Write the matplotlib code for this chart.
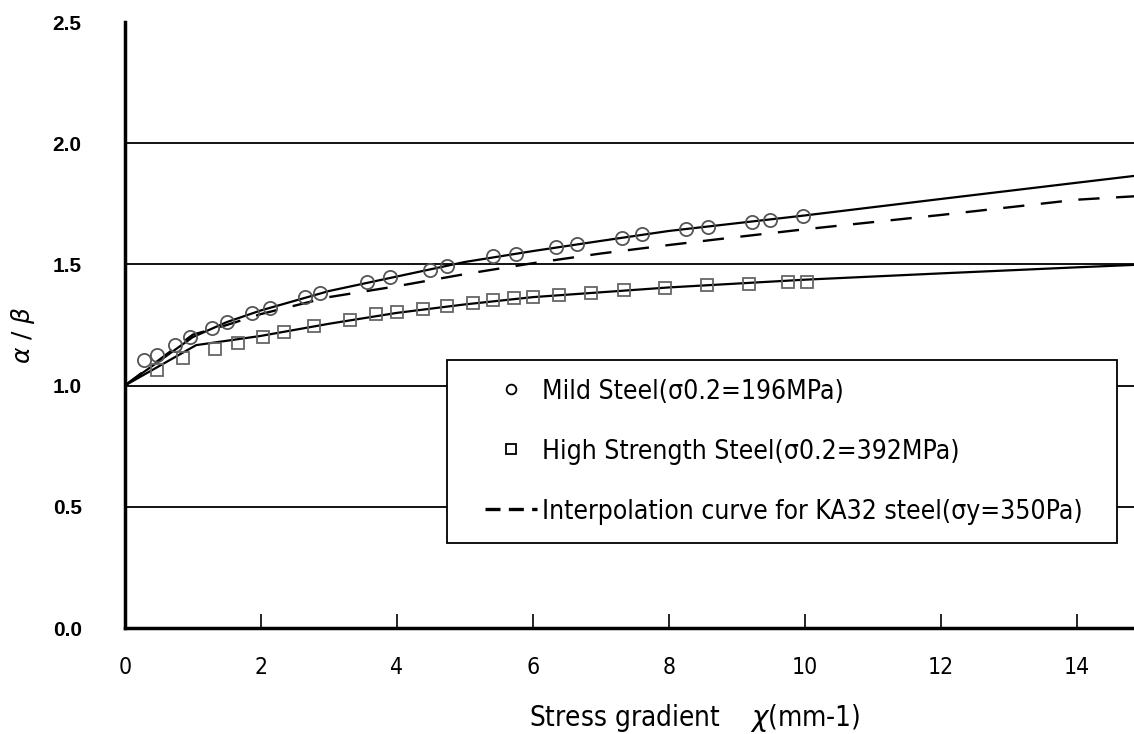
import matplotlib
matplotlib.use("Agg")
import matplotlib.pyplot as plt
from matplotlib.lines import Line2D
from matplotlib.legend_handler import HandlerLine2D
from matplotlib.font_manager import FontProperties

mild_x = [0.29, 0.47, 0.74, 0.96, 1.28, 1.51, 1.87, 2.13, 2.65, 2.87, 3.56, 3.90, 4.49, 4.74,
          5.41, 5.76, 6.34, 6.65, 7.31, 7.60, 8.26, 8.57, 9.22, 9.49, 9.97]
mild_y = [1.106, 1.126, 1.167, 1.200, 1.238, 1.262, 1.300, 1.320, 1.366, 1.382, 1.427, 1.448,
          1.477, 1.493, 1.535, 1.543, 1.572, 1.584, 1.609, 1.625, 1.646, 1.654, 1.675, 1.683, 1.700]

high_x = [0.47, 0.85, 1.32, 1.66, 2.04, 2.34, 2.79, 3.31, 3.69, 4.00, 4.38, 4.74, 5.12, 5.41,
          5.72, 6.00, 6.38, 6.85, 7.34, 7.94, 8.56, 9.18, 9.75, 10.03]
high_y = [1.064, 1.114, 1.151, 1.176, 1.200, 1.221, 1.246, 1.271, 1.295, 1.304, 1.316, 1.328,
          1.341, 1.353, 1.361, 1.365, 1.374, 1.382, 1.394, 1.403, 1.415, 1.419, 1.427, 1.427]

mild_fit_x = [0, 1.0, 1.5, 2, 3, 4, 5, 6, 7, 8, 9, 10, 12, 14, 14.84]
mild_fit_y = [1.0, 1.20, 1.262, 1.31, 1.39, 1.45, 1.51, 1.555, 1.597, 1.638, 1.670, 1.702, 1.770, 1.837, 1.865]

high_fit_x = [0, 1.05, 1.5, 2, 3, 4, 5, 6, 7, 8, 10, 12, 14, 14.84]
high_fit_y = [1.0, 1.167, 1.185, 1.205, 1.255, 1.30, 1.335, 1.365, 1.385, 1.405, 1.437, 1.463, 1.488, 1.498]

ka32_x = [0, 1.0, 1.5, 2, 3, 4, 5, 6, 7, 8, 9, 10, 12, 14, 14.84]
ka32_y = [1.0, 1.21, 1.25, 1.295, 1.365, 1.41, 1.46, 1.505, 1.545, 1.58, 1.613, 1.645, 1.704, 1.767, 1.781]

x_ticks = [0, 2, 4, 6, 8, 10, 12, 14]
y_ticks = [0.0, 0.5, 1.0, 1.5, 2.0, 2.5]

legend_labels = [
    "Mild Steel(σ0.2=196MPa)",
    "High Strength Steel(σ0.2=392MPa)",
    "Interpolation curve for KA32 steel(σy=350Pa)",
]


def narrow_font(size):
    return FontProperties(family="DejaVu Sans", stretch="condensed", size=size)


def main() -> None:
    fig = plt.figure(figsize=(11.34, 7.34), dpi=100)
    ax = fig.add_axes([0.110, 0.1444, 0.890, 0.8256])

    for g in [0.5, 1.0, 1.5, 2.0]:
        ax.axhline(g, color="black", lw=1.3, zorder=1)

    ax.plot(mild_fit_x, mild_fit_y, color="black", lw=1.6, zorder=3)
    ax.plot(high_fit_x, high_fit_y, color="black", lw=1.6, zorder=3)
    ax.plot(ka32_x, ka32_y, color="black", lw=1.7, dashes=(9, 7), zorder=3)
    ax.plot(mild_x, mild_y, ls="none", marker="o", ms=9.5, mfc="none", mec="#555555", mew=1.3, zorder=4)
    ax.plot(high_x, high_y, ls="none", marker="s", ms=9, mfc="none", mec="#666666", mew=1.3, zorder=4)

    ax.set_xlim(0, 14.84)
    ax.set_ylim(0, 2.5)
    ax.set_xticks(x_ticks)
    ax.set_yticks(y_ticks)
    ax.set_xticklabels([str(t) for t in x_ticks], fontproperties=narrow_font(16.5))
    ax.set_yticklabels(["%.1f" % t for t in y_ticks], fontsize=15, family="Liberation Sans",
                       fontweight="bold")
    ax.tick_params(axis="x", direction="in", length=10, width=1.2, pad=20)
    ax.tick_params(axis="y", length=0, pad=31)

    for s in ["top", "right"]:
        ax.spines[s].set_visible(False)
    ax.spines["left"].set_linewidth(2.5)
    ax.spines["bottom"].set_linewidth(2.5)

    ax.set_xlabel("Stress gradient    $\\chi$(mm-1)", fontproperties=narrow_font(20))
    ax.xaxis.set_label_coords(0.564, -0.122)
    ax.set_ylabel("$\\alpha$ / $\\beta$", fontsize=18)
    ax.yaxis.set_label_coords(-0.087, 0.483)

    handles = [
        Line2D([], [], ls="none", marker="o", ms=7, mfc="none", mec="black", mew=1.3),
        Line2D([], [], ls="none", marker="s", ms=7.5, mfc="none", mec="black", mew=1.3),
        Line2D([], [], color="black", lw=2.4, dashes=(4.5, 2.5)),
    ]
    # Рамка легенды в долях осей: x 4.74..14.59, y 0.351..1.106
    leg = ax.legend(handles, legend_labels, loc="center left",
                    bbox_to_anchor=(0.319, 0.140, 0.664, 0.302),
                    mode="expand", frameon=True, fancybox=False, framealpha=1,
                    edgecolor="black", prop=narrow_font(19),
                    labelspacing=1.29, handlelength=2.73, handletextpad=0.19, borderpad=0.7,
                    borderaxespad=0, handler_map={Line2D: HandlerLine2D(xpad=0.76)})
    leg.get_frame().set_linewidth(1.3)
    leg.set_zorder(5)

    fig.savefig("out.png", dpi=100)


if __name__ == "__main__":
    main()
